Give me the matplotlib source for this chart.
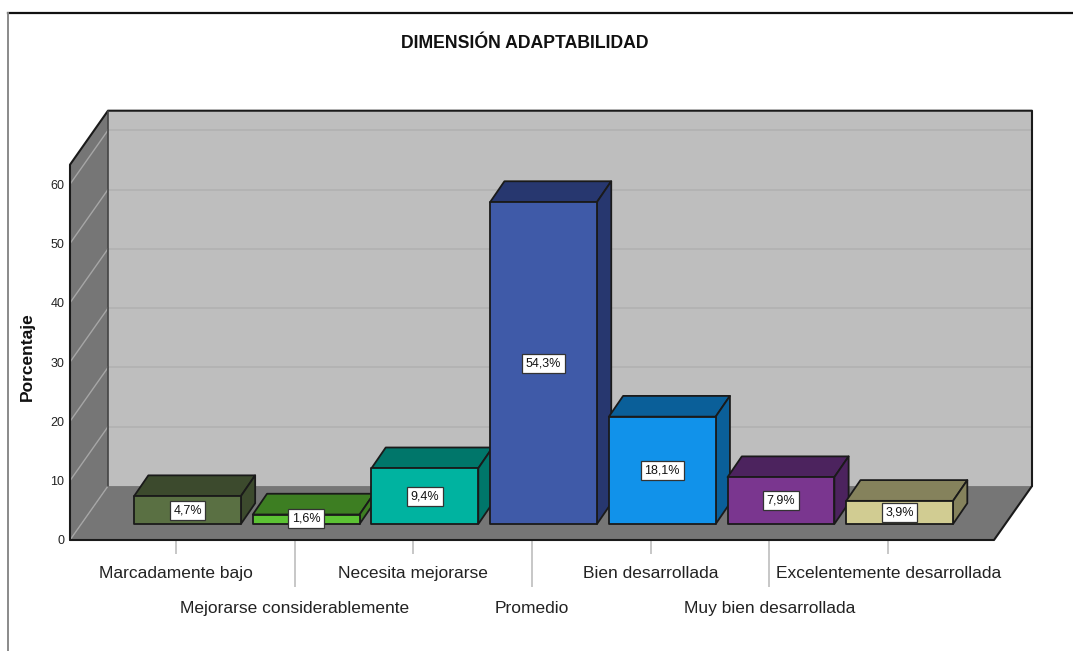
import numpy as np
import matplotlib
matplotlib.use("Agg")
import matplotlib.pyplot as plt
from matplotlib.lines import Line2D
from matplotlib.patches import Polygon

plt.rcParams['font.family'] = ['Liberation Sans', 'DejaVu Sans']

categories = ['Marcadamente bajo', 'Mejorarse considerablemente', 'Necesita mejorarse',
              'Promedio', 'Bien desarrollada', 'Muy bien desarrollada',
              'Excelentemente desarrollada']
values = [4.7, 1.6, 9.4, 54.3, 18.1, 7.9, 3.9]
value_labels = ['4,7%', '1,6%', '9,4%', '54,3%', '18,1%', '7,9%', '3,9%']
front_colors = ['#5A7043', '#5CC234', '#00B3A0', '#3F5AA8', '#1192EA', '#7A368F', '#D1CC92']
dark_colors = ['#3C4A2D', '#3D7E22', '#00766A', '#27376F', '#0A5F99', '#4C235E', '#85825C']
y_ticks = [0, 10, 20, 30, 40, 50, 60]

W, H = 1073, 651
fig = plt.figure(figsize=(W/100, H/100), dpi=100)
# plot box in pixels: x 70-1032, y 111-540
ax = fig.add_axes([70/W, 1-540/H, 962/W, 429/H])
ax.set_xlim(-0.893, 7.212)
ax.set_ylim(0, 72.35)
for s in ax.spines.values():
    s.set_visible(False)
ax.patch.set_visible(False)

# depth of the box and of the bars, in data units
dx, dy = 0.32, 9.1
bdx, bdy = 0.12, 3.5
bx, by = 0.097, 2.7
bw = 0.90
x0, x1, top = -0.893, 6.892, 63.3
ink = '#1a1a1a'


def face(pts, color, z=1, lw=1.3, ec=ink):
    ax.add_patch(Polygon(pts, closed=True, fc=color, ec=ec, lw=lw, zorder=z,
                         joinstyle='round', clip_on=False))


def edge(xs, ys, color=ink, lw=1.5):
    ax.plot(xs, ys, color=color, lw=lw, zorder=2.5, clip_on=False, solid_capstyle='round')


# walls and floor, outline drawn separately since the inner joins have no black line
face([(x0+dx, dy), (x1+dx, dy), (x1+dx, top+dy), (x0+dx, top+dy)], '#BEBEBE', lw=0, ec='none')
face([(x0, 0), (x0+dx, dy), (x0+dx, top+dy), (x0, top)], '#767676', lw=0, ec='none')
face([(x0, 0), (x1, 0), (x1+dx, dy), (x0+dx, dy)], '#767676', lw=0, ec='none')
for v in y_ticks[1:]:
    ax.plot([x0+dx, x1+dx], [v+dy, v+dy], color='#B2B2B2', lw=1.3, zorder=2)
    ax.plot([x0, x0+dx], [v, v+dy], color='#A6A6A6', lw=1, zorder=2)
ax.plot([x0, x0+dx], [0, dy], color='#A6A6A6', lw=1, zorder=2)
edge([x0, x0, x0+dx, x1+dx, x1+dx], [0, top, top+dy, top+dy, dy])
edge([x0, x1, x1+dx], [0, 0, dy])
edge([x0+dx, x0+dx], [dy, top+dy], color='#444444', lw=1.2)

# bars
for i, v in enumerate(values):
    l = i - bw/2 + bx
    r = l + bw
    b = by
    t = by + v
    z = 3 + i
    face([(l, t), (r, t), (r+bdx, t+bdy), (l+bdx, t+bdy)], dark_colors[i], z)
    face([(r, b), (r+bdx, b+bdy), (r+bdx, t+bdy), (r, t)], dark_colors[i], z)
    face([(l, b), (r, b), (r, t), (l, t)], front_colors[i], z)

for i, v in enumerate(values):
    ly = by + v/2
    if v < 2.5:
        ly = by + 0.85
    ax.text(i + bx, ly, value_labels[i], ha='center', va='center', fontsize=9, color='#111111',
            zorder=20, bbox=dict(boxstyle='square,pad=0.28', fc='white', ec='#333333', lw=0.9))

# axis ticks: two rows of category labels
pos = np.arange(len(categories))
ax.set_xticks(pos[::2], [categories[i] for i in pos[::2]])
ax.set_xticks(pos[1::2], [categories[i] for i in pos[1::2]], minor=True)
ax.tick_params(axis='x', which='major', length=10, width=1.2, color='#BDBDBD', pad=8.7,
               labelsize=12.5, labelcolor='#222222')
ax.tick_params(axis='x', which='minor', length=34, width=1.2, color='#BDBDBD', pad=10,
               labelsize=12.5, labelcolor='#222222')
ax.set_yticks(y_ticks, [str(v) for v in y_ticks])
ax.tick_params(axis='y', length=0, pad=4, labelsize=9, labelcolor='#222222')

fig.text(525/W, 1-43/H, 'DIMENSIÓN ADAPTABILIDAD', ha='center', va='center',
         fontsize=12.7, fontweight='bold', color='#111111')
fig.text(27/W, 1-357/H, 'Porcentaje', rotation=90, ha='center', va='center',
         fontsize=12.5, fontweight='bold', color='#111111')

# outer frame of the screenshot
fig.add_artist(Line2D([8/W, 1], [1-13/H, 1-13/H], color='#111111', lw=1.6))
fig.add_artist(Line2D([8/W, 8/W], [1-13/H, 0], color='#8A8A8A', lw=1.4))

fig.savefig('out.png', dpi=100)
